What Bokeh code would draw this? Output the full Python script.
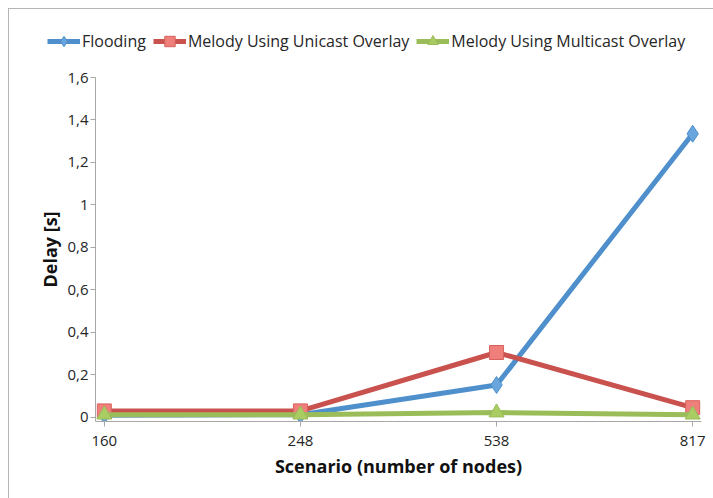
from bokeh.plotting import figure
from bokeh.models import Range1d, FixedTicker, Legend, LegendItem
from bokeh.layouts import column
from bokeh.embed import file_html
from bokeh.resources import INLINE

scenarios = ["160", "248", "538", "817"]
flooding = [0.010, 0.012, 0.152, 1.335]
unicast = [0.030, 0.030, 0.305, 0.045]
multicast = [0.012, 0.012, 0.022, 0.012]
y_ticks = [0, 0.2, 0.4, 0.6, 0.8, 1.0, 1.2, 1.4, 1.6]
y_tick_labels = ["0", "0,2", "0,4", "0,6", "0,8", "1", "1,2", "1,4", "1,6"]

xs = list(range(len(scenarios)))
FONT = "Open Sans"
TXT = "#262626"
W = 705
LEG_H = 48
MAIN_H = 490 - LEG_H

p = figure(width=W, height=MAIN_H, output_backend="svg", toolbar_location=None,
           x_range=Range1d(-0.045, 3.045), y_range=Range1d(-0.02, 1.6),
           min_border_left=86, min_border_right=13, min_border_top=20, min_border_bottom=78)
p.frame_align = False
p.outline_line_color = None
p.xgrid.grid_line_color = None
p.ygrid.grid_line_color = None
p.background_fill_color = "white"
p.border_fill_color = "white"

p.xaxis.ticker = FixedTicker(ticks=xs)
p.xaxis.major_label_overrides = {i: s for i, s in enumerate(scenarios)}
p.yaxis.ticker = FixedTicker(ticks=y_ticks)
p.yaxis.major_label_overrides = {t: l for t, l in zip(y_ticks, y_tick_labels)}

for ax in (p.xaxis[0], p.yaxis[0]):
    ax.axis_line_color = "#a8a8a8"
    ax.major_tick_line_color = "#a8a8a8"
    ax.minor_tick_line_color = None
    ax.major_tick_out = 5
    ax.major_tick_in = 0
    ax.major_label_text_font = FONT
    ax.major_label_text_font_size = "15px"
    ax.major_label_text_color = TXT
    ax.axis_label_text_font = FONT
    ax.axis_label_text_font_style = "bold"
    ax.axis_label_text_font_size = "18px"
    ax.axis_label_text_color = "#111111"

p.xaxis.axis_label = "Scenario (number of nodes)"
p.yaxis.axis_label = "Delay [s]"
p.xaxis.major_label_standoff = 9
p.xaxis.axis_label_standoff = 5
p.yaxis.major_label_standoff = 2
p.yaxis.axis_label_standoff = 2

series = [
    ("Flooding", flooding, "#4f90cc", "diamond", "#6aa6de", "#4f90cc", 17),
    ("Melody Using Unicast Overlay", unicast, "#c9524e", "square", "#ef7f7b", "#d8615d", 14),
    ("Melody Using Multicast Overlay", multicast, "#9bbd59", "triangle", "#a9cc63", "#9bbd59", 15),
]

# legend-only strip above the plot (its range keeps the data out of view)
leg = figure(width=W, height=LEG_H, output_backend="svg", toolbar_location=None,
             x_axis_type=None, y_axis_type=None,
             x_range=Range1d(100, 101), y_range=Range1d(100, 101),
             min_border_left=0, min_border_right=0, min_border_top=0, min_border_bottom=0)
leg.frame_align = False
leg.grid.visible = False
leg.outline_line_color = None
leg.background_fill_color = "white"
leg.border_fill_color = "white"

items = []
for name, vals, lc, mk, mf, ml, ms in series:
    p.line(xs, vals, line_color=lc, line_width=5)
    p.scatter(xs, vals, marker=mk, size=ms, fill_color=mf, line_color=ml, line_width=1)
    lr = leg.line(xs, vals, line_color=lc, line_width=5)
    sr = leg.scatter(xs, vals, marker=mk, size=ms, fill_color=mf, line_color=ml, line_width=1)
    items.append(LegendItem(label=name, renderers=[lr, sr]))

legend = Legend(items=items, orientation="horizontal", location=(38, 3),
                label_text_font=FONT, label_text_font_size="16px", label_text_color=TXT,
                glyph_width=33, glyph_height=26, label_standoff=2, spacing=7,
                padding=0, margin=0, border_line_color=None, background_fill_alpha=0)
leg.add_layout(legend, "center")

layout = column(leg, p, spacing=0)
layout.styles = {"margin-left": "8px", "margin-top": "8px",
                 "border-top": "1px solid #b5b5b5", "border-left": "1px solid #b5b5b5"}

open("out.html", "w").write(file_html(layout, INLINE))
